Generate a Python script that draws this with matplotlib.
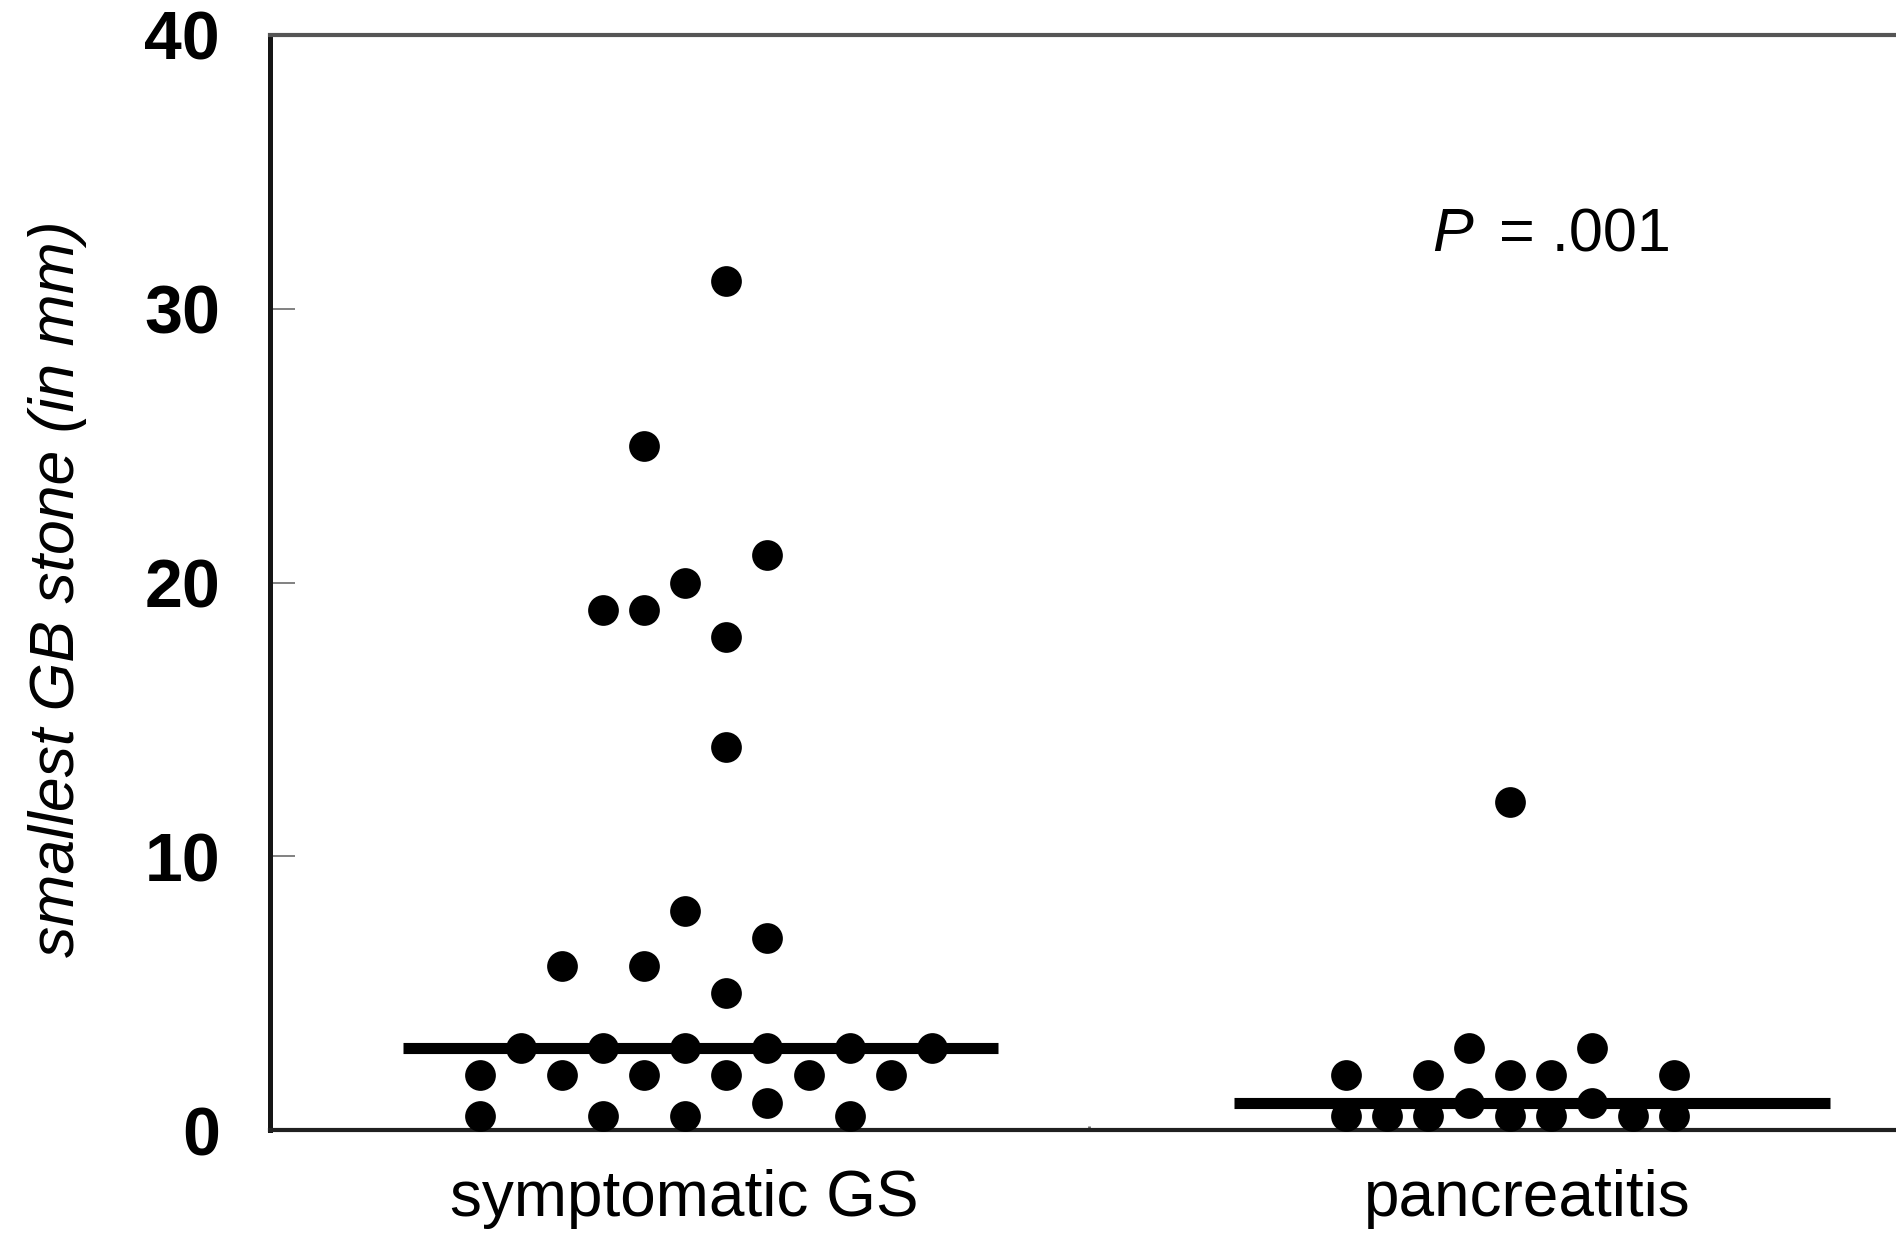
import numpy as np
import matplotlib
matplotlib.use("Agg")
import matplotlib.pyplot as plt

plt.rcParams['font.family'] = ['Liberation Sans', 'DejaVu Sans']

# ---- data ----
categories = ['symptomatic GS', 'pancreatitis']

# smallest gallbladder stone size (mm), symptomatic gallstones group
gs_values = [2, 0.5, 3, 6, 2, 19, 3, 0.5, 25, 19, 6, 2, 20, 8, 3, 0.5,
             31, 18, 14, 5, 2, 21, 7, 3, 1, 2, 3, 0.5, 2, 3]
# column slot used by the dot-plot layout for each value
gs_slots = [0, 0, 1, 2, 2, 3, 3, 3, 4, 4, 4, 4, 5, 5, 5, 5,
            6, 6, 6, 6, 6, 7, 7, 7, 7, 8, 9, 9, 10, 11]

# pancreatitis group
pan_values = [2, 0.5, 0.5, 2, 0.5, 3, 1, 12, 2, 0.5, 2, 0.5, 3, 1, 0.5, 2, 0.5]
pan_slots = [0, 0, 1, 2, 2, 3, 3, 4, 4, 4, 5, 5, 6, 6, 7, 8, 8]

yticks = [0, 10, 20, 30, 40]
ylabel = 'smallest GB stone (in mm)'
p_symbol = 'P'
p_value = '= .001'

# ---- figure ----
W, H = 1896, 1237
fig = plt.figure(figsize=(W / 100, H / 100), dpi=100)
ax = fig.add_axes([270 / W, 1 - 1130 / H, 1 - 270 / W, (1130 - 35) / H])
ax.set_xlim(-0.491, 1.4377)
ax.set_ylim(0, 40)

spacing = 0.0487
dot_shift = [0.026, -0.020]
line_shift = [0.020, 0.006]
half_len = 0.353

groups = [(gs_values, gs_slots), (pan_values, pan_slots)]
for i, (vals, slots) in enumerate(groups):
    slots = np.asarray(slots)
    n = slots.max() + 1
    x = i + dot_shift[i] + (slots - (n - 1) / 2) * spacing
    ax.scatter(x, vals, s=490, c='black', linewidths=0, zorder=3, clip_on=False)
    med = np.median(vals)
    c = i + line_shift[i]
    ax.hlines(med, c - half_len, c + half_len, color='black', lw=8,
              zorder=2, capstyle='butt')

# spines
ax.spines['left'].set_linewidth(3.6)
ax.spines['left'].set_color('#151515')
ax.spines['bottom'].set_linewidth(3.0)
ax.spines['bottom'].set_color('#202020')
ax.spines['top'].set_linewidth(3.0)
ax.spines['top'].set_color('#555555')
ax.spines['right'].set_visible(False)

# y axis
ax.set_yticks(yticks)
ax.set_yticklabels([str(v) for v in yticks], fontweight='bold', fontsize=49)
ax.tick_params(axis='y', direction='in', length=18, width=1.3, color='#777777', pad=36)

# x axis
ax.set_xticks([0, 1])
ax.set_xticklabels(categories, fontsize=46)
ax.tick_params(axis='x', length=0, pad=28)
ax.set_xticks([0.48], minor=True)
ax.tick_params(axis='x', which='minor', direction='in', length=3, width=2, color='#666666')
ax.tick_params(axis='y', which='minor', length=0)

fig.text(58 / W, 1 - 589 / H, ylabel, rotation=90, ha='center', va='center',
         fontsize=45, style='italic')

ax.text(0.888, 32.1, p_symbol, style='italic', fontsize=44, va='baseline', ha='left')
ax.text(0.967, 32.1, p_value, fontsize=44, va='baseline', ha='left')

fig.savefig('out.png', dpi=100)
